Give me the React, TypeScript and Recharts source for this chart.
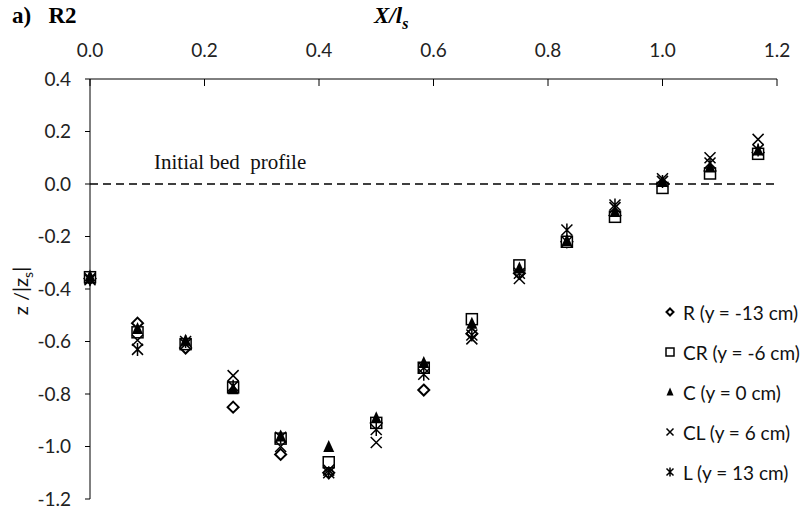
import React from 'react';
import {
  ScatterChart,
  Scatter,
  XAxis,
  YAxis,
  ReferenceLine,
} from 'recharts';

// streamwise positions X/ls
const xPos = [0, 0.083, 0.167, 0.25, 0.333, 0.417, 0.5, 0.583, 0.667, 0.75, 0.833, 0.917, 1.0, 1.083, 1.167];

// bed level z/|zs| per transect
const rVals = [-0.36, -0.53, -0.625, -0.85, -1.03, -1.1, -0.91, -0.785, -0.57, -0.34, -0.22, -0.12, 0.0, 0.05, 0.12];
const crVals = [-0.355, -0.565, -0.61, -0.775, -0.97, -1.06, -0.91, -0.7, -0.515, -0.31, -0.22, -0.125, -0.015, 0.04, 0.115];
const cVals = [-0.35, -0.55, -0.595, -0.78, -0.96, -1.0, -0.89, -0.68, -0.53, -0.32, -0.215, -0.105, 0.01, 0.065, 0.13];
const clVals = [-0.36, -0.595, -0.61, -0.73, -1.0, -1.09, -0.985, -0.7, -0.59, -0.36, -0.22, -0.09, 0.02, 0.1, 0.17];
const lVals = [-0.365, -0.63, -0.6, -0.77, -0.965, -1.1, -0.935, -0.725, -0.575, -0.34, -0.175, -0.08, 0.01, 0.08, 0.13];

const xTicks = [0, 0.2, 0.4, 0.6, 0.8, 1.0, 1.2];
const yTicks = [-1.2, -1.0, -0.8, -0.6, -0.4, -0.2, 0.0, 0.2, 0.4];

const legendLabels = ['R (y = -13 cm)', 'CR (y = -6 cm)', 'C (y = 0 cm)', 'CL (y = 6 cm)', 'L (y = 13 cm)'];

const toPoints = (vals: number[]) => xPos.map((x, i) => ({ x, y: vals[i] }));

const FONT = 'Lato, "Open Sans", sans-serif';
const SERIF = '"Liberation Serif", "DejaVu Serif", serif';

type MarkProps = { cx?: number; cy?: number; s?: number };

const Diamond = ({ cx = 0, cy = 0, s = 5 }: MarkProps) => (
  <path
    d={`M${cx},${cy - s} L${cx + s},${cy} L${cx},${cy + s} L${cx - s},${cy} Z`}
    fill="#fff"
    stroke="#000"
    strokeWidth={2}
  />
);

const Square = ({ cx = 0, cy = 0, s = 5 }: MarkProps) => (
  <rect x={cx - s} y={cy - s} width={s * 2} height={s * 2} fill="#fff" stroke="#000" strokeWidth={1.5} />
);

const Triangle = ({ cx = 0, cy = 0, s = 5 }: MarkProps) => (
  <path d={`M${cx},${cy - s - 1} L${cx + s},${cy + s} L${cx - s},${cy + s} Z`} fill="#000" />
);

const Cross = ({ cx = 0, cy = 0, s = 5 }: MarkProps) => (
  <path
    d={`M${cx - s},${cy - s} L${cx + s},${cy + s} M${cx + s},${cy - s} L${cx - s},${cy + s}`}
    stroke="#000"
    strokeWidth={1.5}
    fill="none"
  />
);

const Star = ({ cx = 0, cy = 0, s = 5 }: MarkProps) => (
  <path
    d={`M${cx - s},${cy - s} L${cx + s},${cy + s} M${cx + s},${cy - s} L${cx - s},${cy + s} M${cx},${cy - s - 1} L${cx},${cy + s + 1}`}
    stroke="#000"
    strokeWidth={1.5}
    fill="none"
  />
);

const markers = [Diamond, Square, Triangle, Cross, Star];

const LegendBox = () => (
  <div style={{ position: 'absolute', left: 662, top: 292, fontFamily: FONT, fontSize: 19, color: '#111' }}>
    {legendLabels.map((label, i) => {
      const M = markers[i];
      return (
        <div key={label} style={{ display: 'flex', alignItems: 'center', height: 40 }}>
          <svg width={16} height={16} style={{ marginRight: 5 }}>
            <M cx={8} cy={8} s={i === 1 ? 4 : 3.5} />
          </svg>
          <span>{label}</span>
        </div>
      );
    })}
  </div>
);

const fmt = (v: number) => v.toFixed(1);

export default function App() {
  const series = [rVals, crVals, cVals, clVals, lVals];
  return (
    <div style={{ position: 'absolute', left: 0, top: 0, width: 801, height: 515, background: '#fff' }}>
      <ScatterChart width={801} height={515} margin={{ top: 49, right: 24, bottom: 16, left: 30 }}>
        <XAxis
          type="number"
          dataKey="x"
          orientation="top"
          domain={[0, 1.2]}
          ticks={xTicks}
          tickFormatter={fmt}
          height={30}
          tickSize={-7}
          tickMargin={29}
          axisLine={{ stroke: '#000' }}
          tickLine={{ stroke: '#000' }}
          tick={{ fill: '#222', fontSize: 19, fontFamily: FONT }}
          interval={0}
        />
        <YAxis
          type="number"
          dataKey="y"
          domain={[-1.2, 0.4]}
          ticks={yTicks}
          tickFormatter={fmt}
          width={60}
          tickSize={5}
          tickMargin={14}
          axisLine={{ stroke: '#000' }}
          tickLine={{ stroke: '#000' }}
          tick={{ fill: '#222', fontSize: 19, fontFamily: FONT }}
          interval={0}
        />
        <ReferenceLine
          y={0}
          stroke="#000"
          strokeWidth={1.3}
          strokeDasharray="8 5"
          label={(props: any) => (
            <text
              x={props.viewBox.x + 64}
              y={props.viewBox.y - 15}
              fontFamily={SERIF}
              fontSize={21}
              fill="#111"
              style={{ whiteSpace: 'pre' }}
            >
              Initial bed  profile
            </text>
          )}
        />
        {series.map((vals, i) => {
          const M = markers[i];
          return (
            <Scatter
              key={legendLabels[i]}
              name={legendLabels[i]}
              data={toPoints(vals)}
              isAnimationActive={false}
              shape={(p: any) => <M cx={p.cx} cy={p.cy} s={5.5} />}
            />
          );
        })}
      </ScatterChart>

      <div style={{ position: 'absolute', left: 12, top: 3, fontFamily: SERIF, fontWeight: 'bold', fontSize: 23, whiteSpace: 'pre' }}>
        a)   R2
      </div>
      <div style={{ position: 'absolute', left: 374, top: 3, fontFamily: SERIF, fontWeight: 'bold', fontStyle: 'italic', fontSize: 23 }}>
        X/l<sub style={{ fontSize: 16 }}>s</sub>
      </div>
      <div
        style={{
          position: 'absolute',
          left: 22,
          top: 291,
          transform: 'translate(-50%, -50%) rotate(-90deg)',
          fontFamily: FONT,
          fontSize: 20,
          whiteSpace: 'nowrap',
          color: '#111',
        }}
      >
        z /|z<sub style={{ fontSize: 14 }}>s</sub>|
      </div>
      <LegendBox />
    </div>
  );
}
